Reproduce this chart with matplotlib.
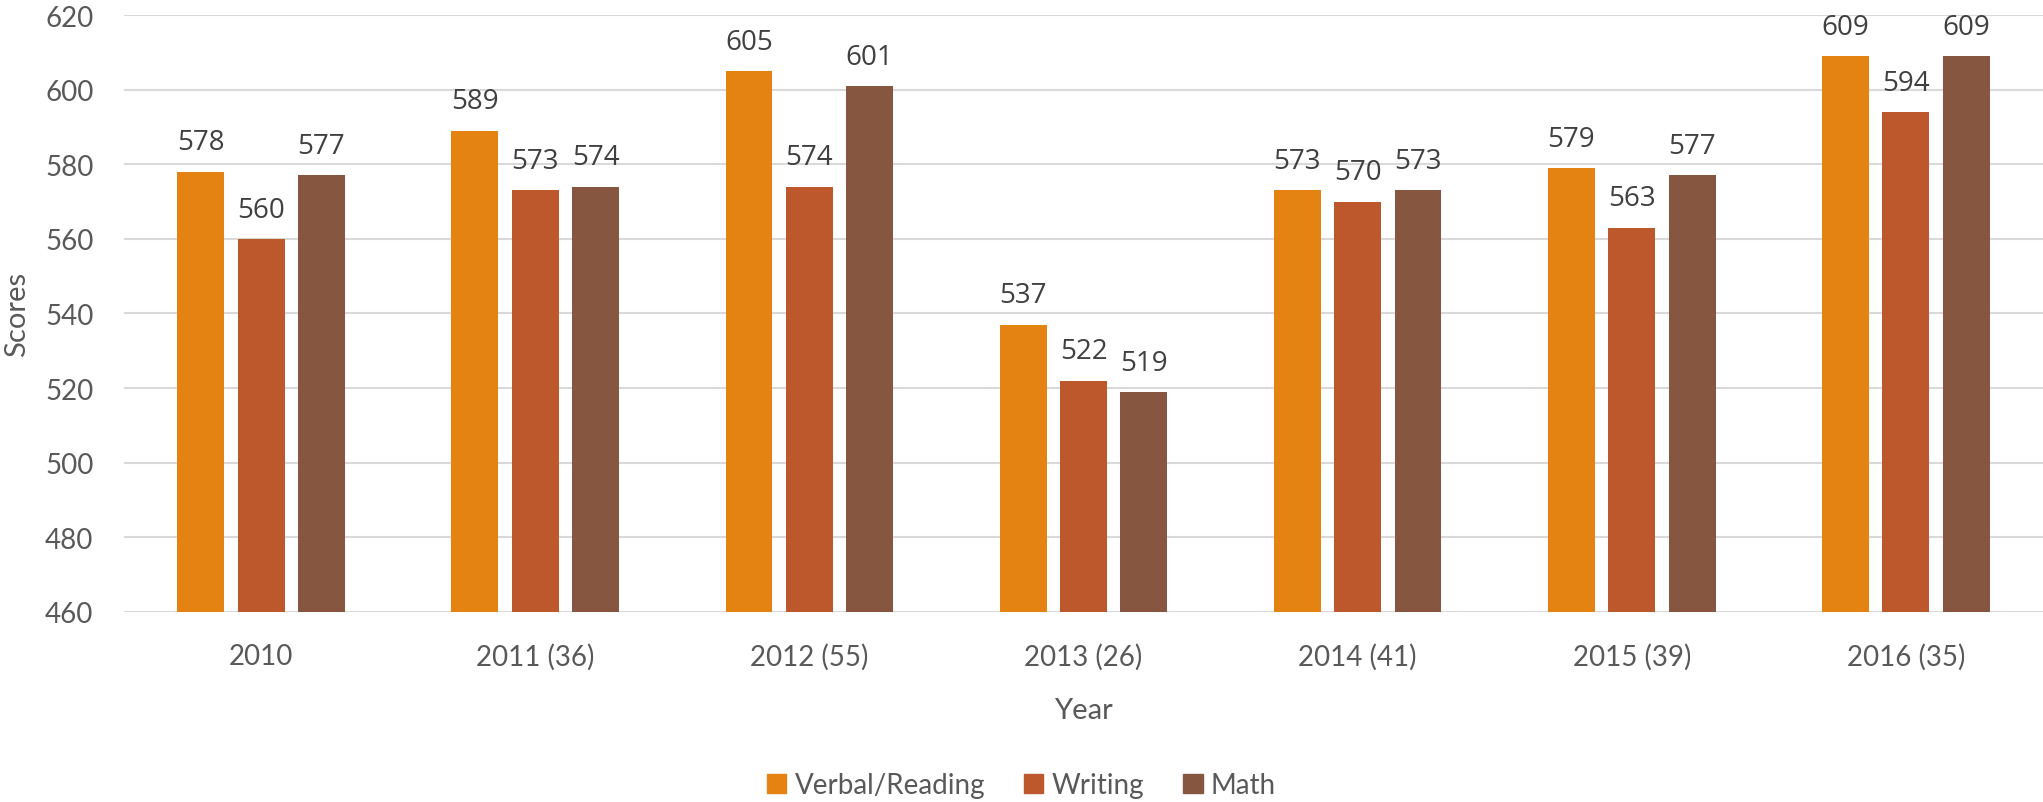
import matplotlib
matplotlib.use("Agg")
import matplotlib.pyplot as plt
import numpy as np
from matplotlib.patches import Patch

categories = ["2010", "2011 (36)", "2012 (55)", "2013 (26)", "2014 (41)", "2015 (39)", "2016 (35)"]
verbal = [578, 589, 605, 537, 573, 579, 609]
writing = [560, 573, 574, 522, 570, 563, 594]
math_scores = [577, 574, 601, 519, 573, 577, 609]
series_names = ["Verbal/Reading", "Writing", "Math"]
colors = ["#E48312", "#BD582C", "#865640"]
yticks = [460, 480, 500, 520, 540, 560, 580, 600, 620]

W, H = 2043, 803
fig = plt.figure(figsize=(W / 100, H / 100), dpi=100)
ax = fig.add_axes([124 / W, (H - 613) / H, (W - 124) / W, 597 / H])

x = np.arange(len(categories))
step = 0.22
width = 0.171
label_font = "Open Sans"
axis_font = "Lato"
for i, (vals, name, c) in enumerate(zip([verbal, writing, math_scores], series_names, colors)):
    pos = x + (i - 1) * step
    ax.bar(pos, [v - 460 for v in vals], bottom=460, width=width, color=c, label=name, zorder=3)
    for p, v in zip(pos, vals):
        ax.annotate(str(v), (p, v), xytext=(0, 11), textcoords="offset points",
                    ha="center", va="bottom", fontsize=20, color="#404040", family=label_font)

ax.set_xlim(-0.5, len(categories) - 0.5)
ax.set_ylim(460, 620)
ax.set_yticks(yticks)
ax.set_yticklabels([str(t) for t in yticks], family=axis_font, fontsize=20, color="#595959")
ax.set_xticks(x)
ax.set_xticklabels(categories, family=axis_font, fontsize=20, color="#595959")
ax.tick_params(axis="both", length=0)
ax.tick_params(axis="y", pad=22)
ax.tick_params(axis="x", pad=22)
ax.grid(axis="y", color="#D9D9D9", linewidth=1.5, zorder=0)
for s in ax.spines.values():
    s.set_visible(False)

ax.set_xlabel("Year", family=axis_font, fontsize=21, color="#595959", labelpad=20)
ax.set_ylabel("Scores", family=axis_font, fontsize=21, color="#595959")
ax.yaxis.set_label_coords(-0.049, 0.5)

handles = [Patch(color=c, label=n) for c, n in zip(colors, series_names)]
fig.legend(handles=handles, loc="center", bbox_to_anchor=(0.5, 1 - 786 / H), ncol=3,
           frameon=False, handlelength=0.7, handleheight=0.7, handletextpad=0.3, columnspacing=1.4,
           prop={"family": axis_font, "size": 20}, labelcolor="#595959")

fig.savefig("out.png", dpi=100)
